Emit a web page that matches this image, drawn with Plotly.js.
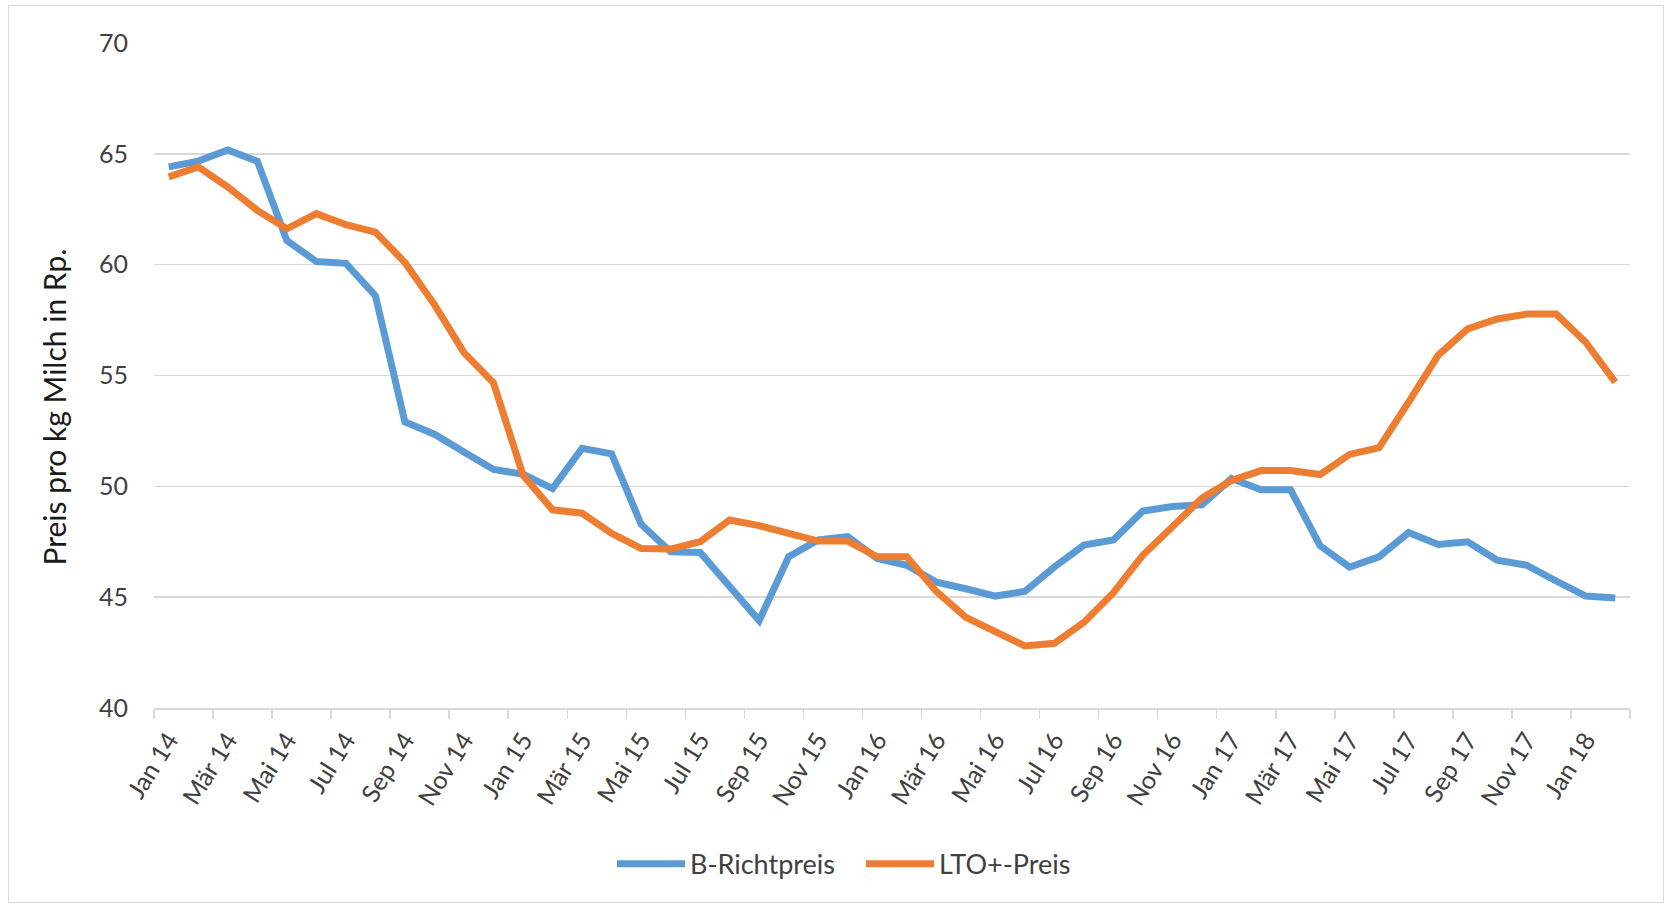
<!DOCTYPE html>
<html>
<head>
<meta charset="utf-8">
<script src="https://cdn.plot.ly/plotly-3.0.1.min.js"></script>
<style>
  body { margin: 0; background: #fff; }
  #chart { position: absolute; left: 0; top: 0; width: 1670px; height: 907px; }
  #frame { position: absolute; left: 8px; top: 5px; width: 1654px; height: 896px; border: 1.5px solid #d9d9d9; pointer-events: none; }
</style>
</head>
<body>
<div id="chart"></div>
<div id="frame"></div>
<script>
const months = [
  'Jan 14','Feb 14','Mär 14','Apr 14','Mai 14','Jun 14','Jul 14','Aug 14','Sep 14','Okt 14','Nov 14','Dez 14',
  'Jan 15','Feb 15','Mär 15','Apr 15','Mai 15','Jun 15','Jul 15','Aug 15','Sep 15','Okt 15','Nov 15','Dez 15',
  'Jan 16','Feb 16','Mär 16','Apr 16','Mai 16','Jun 16','Jul 16','Aug 16','Sep 16','Okt 16','Nov 16','Dez 16',
  'Jan 17','Feb 17','Mär 17','Apr 17','Mai 17','Jun 17','Jul 17','Aug 17','Sep 17','Okt 17','Nov 17','Dez 17',
  'Jan 18','Feb 18'
];

const bRichtpreis = [
  64.41, 64.67, 65.17, 64.67, 61.09, 60.14, 60.06, 58.60, 52.90, 52.35, 51.55, 50.76,
  50.55, 49.90, 51.71, 51.47, 48.29, 47.05, 47.02, 45.45, 43.94, 46.82, 47.58, 47.73,
  46.74, 46.44, 45.68, 45.38, 45.05, 45.26, 46.36, 47.35, 47.58, 48.89, 49.09, 49.17,
  50.35, 49.85, 49.85, 47.32, 46.36, 46.82, 47.92, 47.38, 47.50, 46.67, 46.44, 45.73,
  45.05, 44.96
];

const ltoPreis = [
  63.96, 64.41, 63.50, 62.45, 61.62, 62.30, 61.80, 61.47, 60.10, 58.20, 56.03, 54.67,
  50.50, 48.94, 48.79, 47.88, 47.20, 47.17, 47.50, 48.48, 48.23, 47.92, 47.53, 47.53,
  46.82, 46.82, 45.26, 44.09, 43.48, 42.80, 42.92, 43.86, 45.20, 46.90, 48.18, 49.47,
  50.26, 50.71, 50.71, 50.53, 51.44, 51.74, 53.80, 55.91, 57.10, 57.55, 57.77, 57.77,
  56.50, 54.70
];

const seriesNames = ['B-Richtpreis', 'LTO+-Preis'];
const yTitle = 'Preis pro kg Milch in Rp.';

const FONT = 'Lato, "Open Sans", sans-serif';
const TXT = '#404040';

const traces = [
  { x: months, y: bRichtpreis, name: seriesNames[0], type: 'scatter', mode: 'lines',
    line: { color: '#5B9BD5', width: 7 } },
  { x: months, y: ltoPreis, name: seriesNames[1], type: 'scatter', mode: 'lines',
    line: { color: '#ED7D31', width: 7 } }
];

const layout = {
  width: 1670, height: 907,
  paper_bgcolor: '#ffffff', plot_bgcolor: '#ffffff',
  margin: { l: 154, r: 40, t: 43, b: 199 },
  font: { family: FONT, color: TXT },
  showlegend: true,
  legend: {
    orientation: 'h', x: 0.479, xanchor: 'center', y: -0.235, yanchor: 'middle',
    itemwidth: 68, entrywidth: 166, entrywidthmode: 'pixels',
    font: { family: FONT, size: 27, color: TXT }, traceorder: 'normal'
  },
  xaxis: {
    type: 'category', range: [-0.5, 49.5], tickmode: 'linear', tick0: 0, dtick: 2,
    tickson: 'boundaries', ticks: 'outside', ticklen: 9, tickwidth: 1.5, tickcolor: '#d9d9d9',
    showline: true, linecolor: '#d9d9d9', linewidth: 1.5,
    showgrid: false, zeroline: false, tickangle: -58, ticklabelstandoff: 6,
    tickfont: { family: FONT, size: 25, color: TXT }
  },
  yaxis: {
    range: [40, 70], tick0: 40, dtick: 5, showgrid: true, gridcolor: '#d9d9d9', gridwidth: 1.5,
    zeroline: false, showline: false, ticks: 'outside', ticklen: 20, tickcolor: 'rgba(0,0,0,0)',
    tickfont: { family: FONT, size: 25, color: TXT }
  },
  annotations: [{
    text: yTitle, textangle: -90, xref: 'paper', yref: 'paper',
    x: -0.0674, y: 0.4526, xanchor: 'center', yanchor: 'middle', showarrow: false,
    font: { family: FONT, size: 30, color: '#1a1a1a' }
  }]
};

Plotly.newPlot('chart', traces, layout, { staticPlot: true });
</script>
</body>
</html>
